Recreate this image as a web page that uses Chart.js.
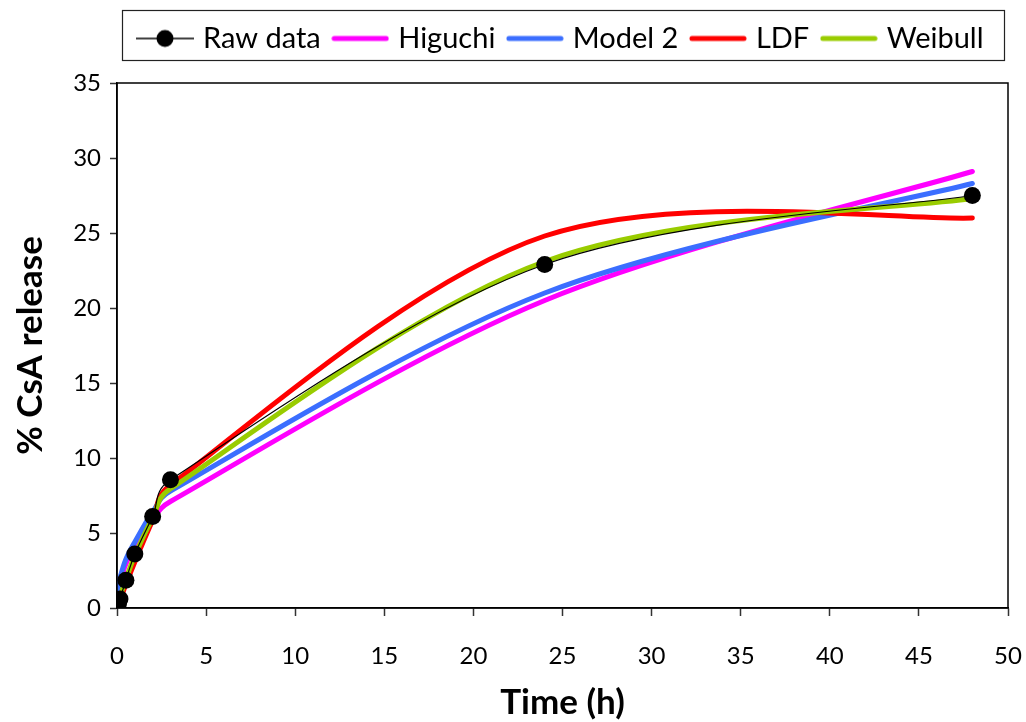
<!DOCTYPE html>
<html>
<head>
<meta charset="utf-8">
<script src="https://cdn.jsdelivr.net/npm/chart.js@4.4.0/dist/chart.umd.min.js"></script>
<style>
body { margin: 0; background: #fff; }
#wrap { width: 1026px; height: 722px; }
</style>
</head>
<body>
<div id="wrap"><canvas id="c"></canvas></div>
<script>
// time points (h) and % CsA release
var times   = [0, 0.083, 0.167, 0.5, 1, 2, 3, 24, 48];
var rawData = [0, 0.3, 0.6, 1.85, 3.6, 6.1, 8.55, 22.9, 27.5];
var higuchi = [0, 1.2, 1.7, 2.95, 4.15, 5.9, 7.1, 20.5, 29.1];
var model2  = [0, 1.4, 2.0, 3.25, 4.4, 6.4, 7.8, 21.0, 28.3];
var ldf     = [0, 0.27, 0.54, 1.57, 3.07, 5.83, 8.2, 24.8, 26.0];
var weibull = [0, 0.4, 0.75, 1.9, 3.5, 6.0, 7.95, 23.1, 27.3];
var seriesNames = ['Raw data', 'Higuchi', 'Model 2', 'LDF', 'Weibull'];
var seriesColors = ['#000000', '#FF00FF', '#3B6EFF', '#FF0000', '#99CC00'];

var FONT = 'Lato, "Open Sans", sans-serif';

function pts(vals)
{
    var out = [];
    for (var i = 0; i < times.length; i++) out.push({x: times[i], y: vals[i]});
    return out;
}

// little pictures for the legend entries
function legendIcon(color, isRaw)
{
    var cv = document.createElement('canvas');
    cv.width = 58; cv.height = 20;
    var g = cv.getContext('2d');
    g.strokeStyle = color;
    g.lineCap = 'round';
    g.lineWidth = isRaw ? 1.5 : 5;
    g.beginPath(); g.moveTo(isRaw ? 0 : 3, 10); g.lineTo(isRaw ? 58 : 55, 10); g.stroke();
    if (isRaw)
    {
        g.fillStyle = color;
        g.beginPath(); g.arc(29, 10, 8.5, 0, Math.PI * 2); g.fill();
    }
    return cv;
}

function dist(a, b) { return Math.hypot(b.x - a.x, b.y - a.y); }

// Excel style smoothing: tangent = neighbour chord / 6, capped at half the segment
var excelSmooth = {
    id: 'excelSmooth',
    afterInit: function(chart)
    {
        // keep all five legend entries on one row, and leave room above the plot
        var lg = chart.legend, fit0 = lg.fit;
        lg.fit = function()
        {
            var mw = this.maxWidth;
            this.maxWidth = mw + 200;
            fit0.call(this);
            this.maxWidth = mw;
            this.width = mw;
            this.height += 20;
        };
    },
    beforeDatasetsDraw: function(chart)
    {
        chart.data.datasets.forEach(function(ds, di)
        {
            var meta = chart.getDatasetMeta(di);
            meta.dataset.updateControlPoints(chart.chartArea, 'x');
            var p = meta.data;
            p[0].cp1x = p[0].x; p[0].cp1y = p[0].y;
            p[p.length - 1].cp2x = p[p.length - 1].x; p[p.length - 1].cp2y = p[p.length - 1].y;
            for (var i = 0; i < p.length - 1; i++)
            {
                var p0 = p[i - 1] || p[i], p1 = p[i], p2 = p[i + 1], p3 = p[i + 2] || p[i + 1];
                var d12 = dist(p1, p2), d02 = dist(p0, p2), d13 = dist(p1, p3);
                var f1 = d02 > 0 ? Math.min(1 / 6, d12 / (2 * d02)) : 0;
                var f2 = d13 > 0 ? Math.min(1 / 6, d12 / (2 * d13)) : 0;
                p1.cp2x = p1.x + f1 * (p2.x - p0.x); p1.cp2y = p1.y + f1 * (p2.y - p0.y);
                p2.cp1x = p2.x - f2 * (p3.x - p1.x); p2.cp1y = p2.y - f2 * (p3.y - p1.y);
            }
        });
    }
};

// frame around plot area and around legend
var frames = {
    id: 'frames',
    afterDraw: function(chart)
    {
        var ctx = chart.ctx, a = chart.chartArea;
        ctx.save();
        ctx.strokeStyle = '#000';
        ctx.lineWidth = 1.5;
        ctx.strokeRect(a.left, a.top, a.right - a.left, a.bottom - a.top);
        var hb = chart.legend.legendHitBoxes;
        if (hb && hb.length)
        {
            var l = hb[0].left, r = 0, t = hb[0].top;
            hb.forEach(function(h)
            {
                l = Math.min(l, h.left); r = Math.max(r, h.left + h.width);
                t = Math.min(t, h.top);
            });
            ctx.lineWidth = 1.2;
            ctx.strokeStyle = '#222';
            ctx.strokeRect(Math.round(l - 19) + 0.5, Math.round(t - 14) + 0.5, Math.round(r - l + 40), 50);
        }
        ctx.restore();
    }
};

var allSeries = [rawData, higuchi, model2, ldf, weibull];
var drawOrder = [0, 4, 3, 2, 1];
var datasets = [];
for (var k = 0; k < allSeries.length; k++)
{
    var isRaw = k == 0;
    datasets.push({
        label: seriesNames[k],
        data: pts(allSeries[k]),
        borderColor: seriesColors[k],
        backgroundColor: seriesColors[k],
        borderWidth: isRaw ? 1.2 : 5,
        borderCapStyle: 'round',
        borderJoinStyle: 'round',
        pointRadius: isRaw ? 8.5 : 0,
        pointBorderWidth: 0,
        pointHoverRadius: isRaw ? 8.5 : 0,
        tension: 0.4,
        fill: false,
        order: drawOrder[k],
        icon: legendIcon(seriesColors[k], isRaw)
    });
}

new Chart(document.getElementById('c'), {
    type: 'line',
    data: {datasets: datasets},
    plugins: [excelSmooth, frames],
    options: {
        responsive: true,
        maintainAspectRatio: false,
        animation: false,
        layout: {padding: {left: 0, right: 18, top: 4, bottom: 0}},
        plugins: {
            tooltip: {enabled: false},
            legend: {
                position: 'top',
                fullSize: false,
                labels: {
                    font: {family: FONT, size: 29},
                    color: '#000',
                    usePointStyle: true,
                    pointStyleWidth: 47,
                    padding: 16,
                    generateLabels: function(chart)
                    {
                        return chart.data.datasets.map(function(ds, i)
                        {
                            return {text: ds.label, pointStyle: ds.icon, fontColor: '#000',
                                    lineWidth: 0, strokeStyle: 'transparent', fillStyle: 'transparent',
                                    datasetIndex: i, hidden: false};
                        });
                    }
                }
            }
        },
        scales: {
            x: {
                type: 'linear',
                min: 0, max: 50,
                ticks: {stepSize: 5, color: '#000', font: {family: FONT, size: 24}, padding: 26, maxRotation: 0},
                grid: {drawOnChartArea: false, drawTicks: true, tickLength: 8, color: '#333', tickWidth: 1.5},
                border: {color: '#000', width: 1.5},
                title: {display: true, text: 'Time (h)', color: '#000',
                        font: {family: FONT, size: 35, weight: 'bold', lineHeight: 1.1}, padding: {top: 0, bottom: 0}},
                afterFit: function(scale) { scale.height = 114; scale.paddingRight = 0; }
            },
            y: {
                min: 0, max: 35,
                ticks: {stepSize: 5, color: '#000', font: {family: FONT, size: 24}, padding: 9},
                grid: {drawOnChartArea: false, drawTicks: true, tickLength: 7, color: '#333', tickWidth: 1.5},
                border: {color: '#000', width: 1.5},
                title: {display: true, text: '% CsA release', color: '#000',
                        font: {family: FONT, size: 35, weight: 'bold', lineHeight: 1.1}, padding: {top: 11, bottom: 0}},
                afterFit: function(scale) { scale.width = 117; scale.paddingTop = 83; }
            }
        }
    }
});
</script>
</body>
</html>
